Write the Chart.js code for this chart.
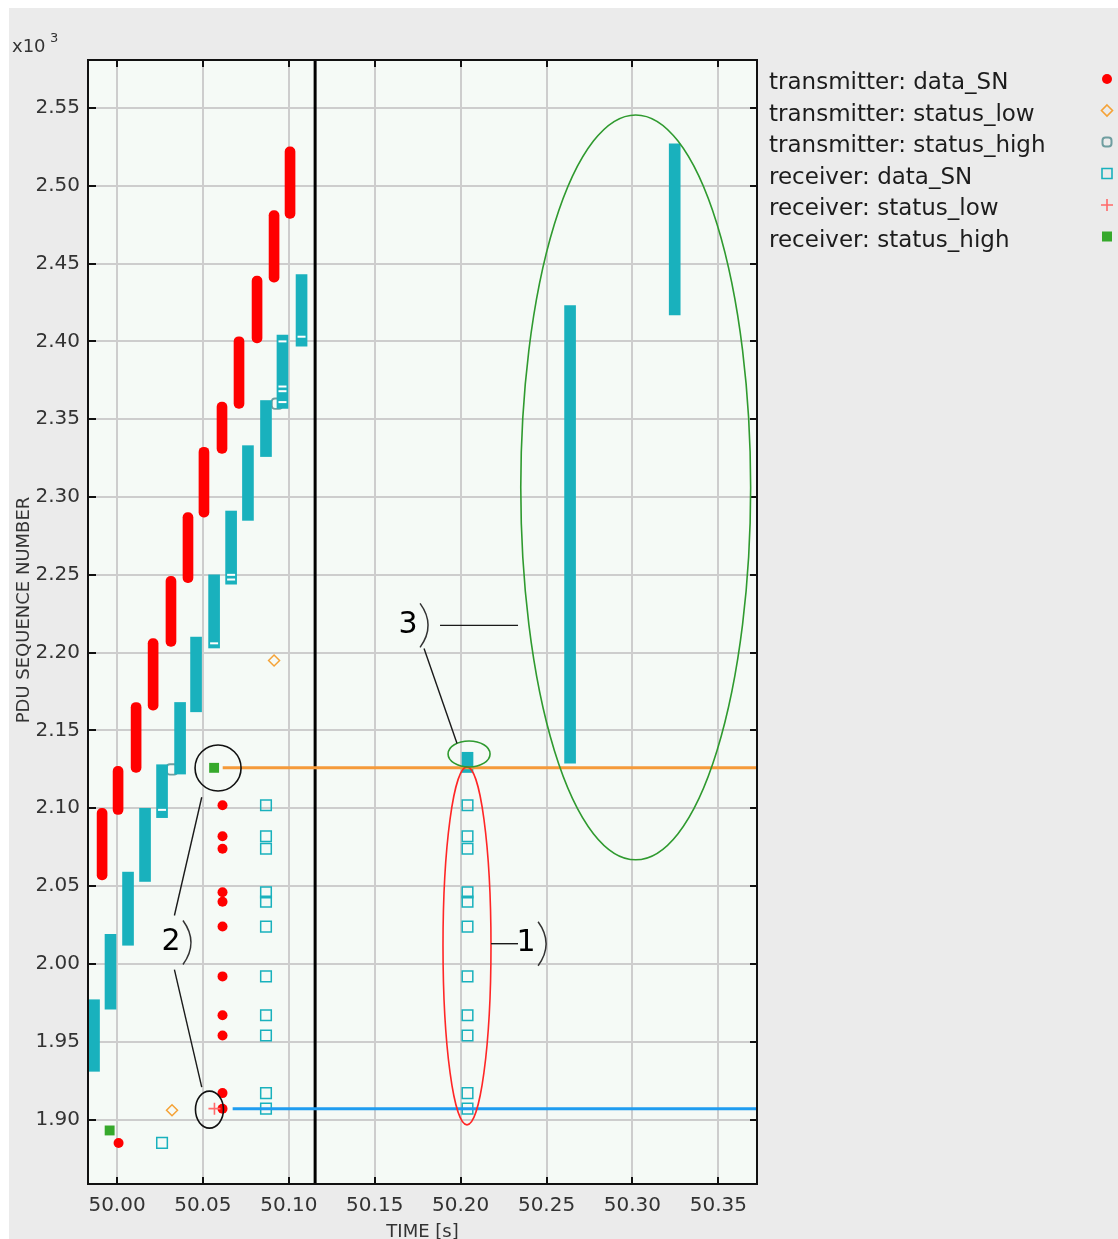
<!DOCTYPE html>
<html>
<head>
<meta charset="utf-8">
<script src="https://cdn.jsdelivr.net/npm/chart.js@4/dist/chart.umd.min.js"></script>
<style>
  html, body { margin: 0; padding: 0; background: #ffffff; }
  canvas { display: block; }
</style>
</head>
<body>
<canvas id="trace" width="1118" height="1239"></canvas>
<script>
// ---- Axis ranges (time in seconds, PDU sequence numbers) ----
const TIME_MIN = 49.9831, TIME_MAX = 50.3725, TIME_STEP = 0.05;
const SN_MIN = 1858.6, SN_MAX = 2580.8, SN_STEP = 50;

// ---- Transmitter data bursts: time, first SN, last SN ----
const txBurstTimes = [49.9913, 50.0006, 50.0111, 50.0210, 50.0314, 50.0413, 50.0506, 50.0611, 50.0710, 50.0815, 50.0914, 50.1007];
const txBurstLow   = [2054, 2096, 2123, 2163, 2204, 2245, 2287, 2328, 2357, 2399, 2438, 2479];
const txBurstHigh  = [2100, 2127, 2168, 2209, 2249, 2290, 2332, 2361, 2403, 2442, 2484, 2525];

// ---- Receiver data bursts: time, first SN, last SN ----
const rxBurstTimes = [49.9866, 49.9962, 50.0064, 50.0163, 50.0262, 50.0367, 50.0460, 50.0565, 50.0664, 50.0762, 50.0867, 50.0963, 50.1074, 50.2040, 50.2637, 50.3246];
const rxBurstLow   = [1931, 1971, 2012, 2053, 2094, 2122, 2162, 2203, 2244, 2285, 2326, 2357, 2397, 2123, 2129, 2417];
const rxBurstHigh  = [1977, 2019, 2059, 2100, 2128, 2168, 2210, 2250, 2291, 2333, 2362, 2404, 2443, 2136, 2423, 2527];

// ---- Isolated SNs at the edges of received runs (open squares inside bursts) ----
const rxEdgeTimes = [50.1074, 50.0963, 50.0963, 50.0963, 50.0963, 50.0664, 50.0664, 50.0565, 50.0262];
const rxEdgeSN    = [2403, 2400, 2371, 2368, 2361, 2250, 2247, 2206, 2099];

// ---- Retransmitted SNs (sent once, received twice) ----
const retxSN = [2102, 2082, 2074, 2046, 2040, 2024, 1992, 1967, 1954, 1917, 1907];
const txRetxTime = 50.0614;
const rxRetxTimes = [50.0867, 50.2040];

// ---- Single data PDUs ----
const txSingleTimes = [50.0009];
const txSingleSN    = [1885];
const rxSingleTimes = [50.0262];
const rxSingleSN    = [1885];

// ---- Status PDUs ----
const txStatusLowTimes  = [50.0320, 50.0914];
const txStatusLowSN     = [1906, 2195];
const txStatusHighTimes = [50.0320, 50.0931];
const txStatusHighSN    = [2125, 2360];
const rxStatusLowTimes  = [50.0567];
const rxStatusLowSN     = [1907];
const rxStatusHighTimes = [49.9957, 50.0565];
const rxStatusHighSN    = [1893, 2126];

// ---- Reference levels and time marker ----
const highLevelStart = 50.0615, highLevelSN = 2126;
const lowLevelStart  = 50.0673, lowLevelSN  = 1907;
const markerTime = 50.1153;

// ---- Legend labels ----
const legendLabels = [
  'transmitter: data_SN',
  'transmitter: status_low',
  'transmitter: status_high',
  'receiver: data_SN',
  'receiver: status_low',
  'receiver: status_high'
];

// ---- Colours ----
const RED = '#ff0000', TEAL = '#19b1bd', ORANGE = '#f5a236', GREYTEAL = '#6f9ea0',
      PINK = '#ff6a6a', GREEN = '#36a92c', LINE_ORANGE = '#f59a3a', LINE_BLUE = '#1f9cf0';

const pts = (ts, sns) => ts.map((t, i) => ({ x: t, y: sns[i] }));
const spans = (ts, lo, hi) => ts.map((t, i) => ({ x: t, y: [lo[i], hi[i]] }));

const txDataPoints = [...pts(txSingleTimes, txSingleSN), ...retxSN.map(sn => ({ x: txRetxTime, y: sn }))];
const rxDataPoints = [...pts(rxSingleTimes, rxSingleSN),
  ...rxRetxTimes.flatMap(t => retxSN.map(sn => ({ x: t, y: sn })))];

// ---- Annotation overlays, in data units ----
const ellipses = [
  { t: 50.3019, sn: 2306.2, dt: 0.0669,  dsn: 239.3, color: '#2f9a2f' },
  { t: 50.2037, sn: 2011.6, dt: 0.01397, dsn: 115.0, color: '#ff2626' },
  { t: 50.2049, sn: 2134.9, dt: 0.01222, dsn: 8.35,  color: '#2f9a2f' },
  { t: 50.0588, sn: 2125.9, dt: 0.01339, dsn: 14.8,  color: '#111111' },
  { t: 50.0538, sn: 1906.4, dt: 0.00815, dsn: 11.9,  color: '#111111' }
];
const callouts = [
  { label: '1', t: 50.2381, sn: 2013.0, leaders: [[50.2177, 2013.0, 50.2334, 2013.0]] },
  { label: '2', t: 50.0314, sn: 2013.8, leaders: [[50.0493, 2107.1, 50.0334, 2031.1], [50.0334, 1996.4, 50.0493, 1920.8]] },
  { label: '3', t: 50.1694, sn: 2217.5, leaders: [[50.1880, 2217.5, 50.2334, 2217.5], [50.1787, 2202.7, 50.1979, 2141.6]] }
];

const FONT = '"DejaVu Sans", "Liberation Sans", sans-serif';

// Small marker painter used for the legend swatches
function paintMarker(ctx, kind, x, y) {
  ctx.save();
  ctx.lineWidth = 1.6;
  ctx.beginPath();
  if (kind === 0) {            // filled red dot
    ctx.fillStyle = RED; ctx.arc(x, y, 5, 0, Math.PI * 2); ctx.fill();
  } else if (kind === 1) {     // open orange diamond
    ctx.strokeStyle = ORANGE;
    ctx.moveTo(x, y - 5.5); ctx.lineTo(x + 5.5, y); ctx.lineTo(x, y + 5.5); ctx.lineTo(x - 5.5, y); ctx.closePath(); ctx.stroke();
  } else if (kind === 2) {     // open grey-teal rounded square
    ctx.strokeStyle = GREYTEAL; ctx.lineWidth = 2;
    ctx.roundRect(x - 4.5, y - 4.5, 9, 9, 3); ctx.stroke();
  } else if (kind === 3) {     // open teal square
    ctx.strokeStyle = TEAL;
    ctx.rect(x - 5, y - 5, 10, 10); ctx.stroke();
  } else if (kind === 4) {     // pink plus
    ctx.strokeStyle = PINK;
    ctx.moveTo(x - 6, y); ctx.lineTo(x + 6, y); ctx.moveTo(x, y - 6); ctx.lineTo(x, y + 6); ctx.stroke();
  } else {                     // filled green square
    ctx.fillStyle = GREEN; ctx.fillRect(x - 5, y - 5, 10, 10);
  }
  ctx.restore();
}

const decorations = {
  id: 'decorations',
  beforeDraw(chart) {
    const { ctx, chartArea: a, width, height } = chart;
    ctx.save();
    ctx.fillStyle = '#ffffff';
    ctx.fillRect(0, 0, width, height);
    ctx.fillStyle = '#ebebeb';
    ctx.fillRect(9, 8, width - 9, height - 8);
    ctx.fillStyle = '#f5faf6';
    ctx.fillRect(a.left, a.top, a.right - a.left, a.bottom - a.top);
    ctx.restore();
  },
  beforeDatasetsDraw(chart) {
    // inward tick marks on all four sides
    const { ctx, chartArea: a, scales: { x, y } } = chart;
    ctx.save();
    ctx.strokeStyle = '#111111';
    ctx.lineWidth = 2;
    ctx.beginPath();
    x.ticks.forEach(tk => {
      const px = Math.round(x.getPixelForValue(tk.value));
      ctx.moveTo(px, a.bottom); ctx.lineTo(px, a.bottom - 7);
      ctx.moveTo(px, a.top);    ctx.lineTo(px, a.top + 7);
    });
    y.ticks.forEach(tk => {
      const py = Math.round(y.getPixelForValue(tk.value));
      ctx.moveTo(a.left, py);  ctx.lineTo(a.left + 8, py);
      ctx.moveTo(a.right, py); ctx.lineTo(a.right - 7, py);
    });
    ctx.stroke();
    ctx.restore();
  },
  afterDatasetsDraw(chart) {
    const { ctx, chartArea: a, scales: { x, y } } = chart;
    ctx.save();
    // plot frame
    ctx.strokeStyle = '#111111';
    ctx.lineWidth = 2;
    ctx.strokeRect(a.left, a.top, a.right - a.left, a.bottom - a.top);

    // ellipses
    ellipses.forEach(e => {
      const cx = x.getPixelForValue(e.t), cy = y.getPixelForValue(e.sn);
      const rx = Math.abs(x.getPixelForValue(e.t + e.dt) - cx);
      const ry = Math.abs(y.getPixelForValue(e.sn + e.dsn) - cy);
      ctx.beginPath();
      ctx.strokeStyle = e.color;
      ctx.lineWidth = 1.6;
      ctx.ellipse(cx, cy, rx, ry, 0, 0, Math.PI * 2);
      ctx.stroke();
    });

    // numbered callouts with leader lines and a bracket
    callouts.forEach(c => {
      ctx.strokeStyle = '#1a1a1a';
      ctx.lineWidth = 1.4;
      c.leaders.forEach(l => {
        ctx.beginPath();
        ctx.moveTo(x.getPixelForValue(l[0]), y.getPixelForValue(l[1]));
        ctx.lineTo(x.getPixelForValue(l[2]), y.getPixelForValue(l[3]));
        ctx.stroke();
      });
      const cx = x.getPixelForValue(c.t), cy = y.getPixelForValue(c.sn);
      ctx.fillStyle = '#000000';
      ctx.font = '30px ' + FONT;
      ctx.textAlign = 'center';
      ctx.textBaseline = 'middle';
      ctx.fillText(c.label, cx, cy);
      ctx.beginPath();
      ctx.strokeStyle = '#333333';
      ctx.lineWidth = 1.5;
      ctx.moveTo(cx + 12, cy - 22);
      ctx.quadraticCurveTo(cx + 28, cy, cx + 12, cy + 22);
      ctx.stroke();
    });
    ctx.restore();
  },
  afterDraw(chart) {
    const { ctx, chartArea: a } = chart;
    ctx.save();
    ctx.fillStyle = '#333333';
    // exponent note above the value axis
    ctx.textAlign = 'left';
    ctx.textBaseline = 'alphabetic';
    ctx.font = '18px ' + FONT;
    ctx.fillText('x10', 12, 52);
    ctx.font = '13px ' + FONT;
    ctx.fillText('3', 50, 42);

    // axis titles
    ctx.font = '18px ' + FONT;
    ctx.textAlign = 'center';
    ctx.fillText('TIME [s]', (a.left + a.right) / 2, 1237);
    ctx.translate(29, (a.top + a.bottom) / 2 - 12);
    ctx.rotate(-Math.PI / 2);
    ctx.fillText('PDU SEQUENCE NUMBER', 0, 0);
    ctx.restore();

    // legend
    ctx.save();
    ctx.font = '23px ' + FONT;
    ctx.fillStyle = '#1c1c1c';
    ctx.textAlign = 'left';
    ctx.textBaseline = 'alphabetic';
    legendLabels.forEach((lbl, i) => {
      const base = 89 + i * 31.5;
      ctx.fillText(lbl, 769, base);
      paintMarker(ctx, i, 1107, base - 10);
    });
    ctx.restore();
  }
};

const tickFont = { family: FONT, size: 20 };

new Chart(document.getElementById('trace'), {
  type: 'scatter',
  data: {
    datasets: [
      { type: 'scatter', label: 'receiver: status_low', data: pts(rxStatusLowTimes, rxStatusLowSN),
        pointStyle: 'cross', radius: 6, borderColor: PINK, backgroundColor: PINK, borderWidth: 1.6, order: 0 },
      { type: 'scatter', label: 'receiver: status_high', data: pts(rxStatusHighTimes, rxStatusHighSN),
        pointStyle: 'rect', radius: 7, borderColor: GREEN, backgroundColor: GREEN, borderWidth: 0, order: 1 },
      { type: 'scatter', label: 'transmitter: data_SN', data: txDataPoints,
        pointStyle: 'circle', radius: 5, borderColor: RED, backgroundColor: RED, borderWidth: 0, order: 2 },
      { type: 'scatter', label: 'transmitter: status_low', data: pts(txStatusLowTimes, txStatusLowSN),
        pointStyle: 'rectRot', radius: 5.5, borderColor: ORANGE, backgroundColor: 'rgba(0,0,0,0)', borderWidth: 1.5, order: 3 },
      { type: 'line', label: 'status high level', data: [{ x: highLevelStart, y: highLevelSN }, { x: TIME_MAX, y: highLevelSN }],
        borderColor: LINE_ORANGE, borderWidth: 3, pointRadius: 0, order: 4 },
      { type: 'line', label: 'status low level', data: [{ x: lowLevelStart, y: lowLevelSN }, { x: TIME_MAX, y: lowLevelSN }],
        borderColor: LINE_BLUE, borderWidth: 3, pointRadius: 0, order: 4 },
      { type: 'scatter', label: 'receiver: data_SN', data: rxDataPoints,
        pointStyle: 'rect', radius: 7.5, borderColor: TEAL, backgroundColor: 'rgba(0,0,0,0)', borderWidth: 1.5, order: 5 },
      { type: 'scatter', label: 'receiver run edges', data: pts(rxEdgeTimes, rxEdgeSN),
        pointStyle: 'line', radius: 4, borderColor: '#ffffff', borderWidth: 2, order: 6 },
      { type: 'bar', label: 'receiver bursts', data: spans(rxBurstTimes, rxBurstLow, rxBurstHigh),
        backgroundColor: TEAL, borderWidth: 0, barThickness: 11, grouped: false, borderSkipped: false, order: 7 },
      { type: 'bar', label: 'transmitter bursts', data: spans(txBurstTimes, txBurstLow, txBurstHigh),
        backgroundColor: RED, borderWidth: 0, barThickness: 10, borderRadius: 5, grouped: false, borderSkipped: false, order: 7 },
      { type: 'scatter', label: 'transmitter: status_high', data: pts(txStatusHighTimes, txStatusHighSN),
        pointStyle: 'rectRounded', radius: 6, borderColor: GREYTEAL, backgroundColor: 'rgba(0,0,0,0)', borderWidth: 1.8, order: 8 },
      { type: 'line', label: 'time marker', data: [{ x: markerTime, y: SN_MIN }, { x: markerTime, y: SN_MAX }],
        borderColor: '#000000', borderWidth: 3, pointRadius: 0, order: 9 }
    ]
  },
  options: {
    responsive: false,
    animation: false,
    events: [],
    layout: { padding: { top: 60, right: 361, left: 0, bottom: 0 } },
    plugins: { legend: { display: false }, tooltip: { enabled: false } },
    scales: {
      x: {
        type: 'linear', min: TIME_MIN, max: TIME_MAX, offset: false,
        afterFit: s => { s.height = 55; },
        border: { display: false },
        grid: { color: '#cdcdcd', lineWidth: 2, drawTicks: false, offset: false },
        ticks: { stepSize: TIME_STEP, includeBounds: false, autoSkip: false, maxRotation: 0,
                 padding: 10, color: '#333333', font: tickFont, callback: v => Number(v).toFixed(2) }
      },
      y: {
        type: 'linear', min: SN_MIN, max: SN_MAX, beginAtZero: false,
        afterFit: s => { s.width = 88; },
        border: { display: false },
        grid: { color: '#cdcdcd', lineWidth: 2, drawTicks: false },
        ticks: { stepSize: SN_STEP, includeBounds: false, padding: 8, color: '#333333', font: tickFont,
                 callback: v => (v / 1000).toFixed(2) }
      }
    }
  },
  plugins: [decorations]
});
</script>
</body>
</html>
